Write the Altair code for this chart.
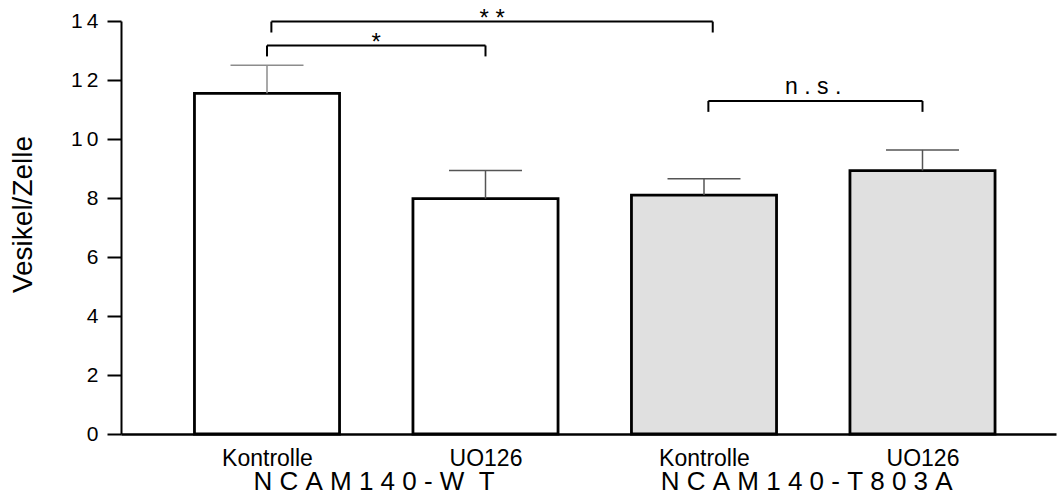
import altair as alt
import pandas as pd

# ---- data ----
conditions = ["Kontrolle", "UO126", "Kontrolle", "UO126"]
positions = [1, 2, 3, 4]
means = [11.55, 7.98, 8.10, 8.93]
err_upper = [12.50, 8.93, 8.65, 9.63]
fills = ["#ffffff", "#ffffff", "#e0e0e0", "#e0e0e0"]
err_colors = ["#8c8c8c", "#555555", "#555555", "#555555"]

group_labels = ["N\u00a0C\u00a0A\u00a0M\u00a01\u00a04\u00a00\u00a0-\u00a0W\u00a0\u00a0T",
                "N\u00a0C\u00a0A\u00a0M\u00a01\u00a04\u00a00\u00a0-\u00a0T\u00a08\u00a00\u00a03\u00a0A"]
group_pos = [1.49, 3.47]

bracket_x1 = [1.0, 1.02, 3.02]
bracket_x2 = [2.0, 3.04, 4.0]
bracket_y = [13.17, 13.98, 11.29]
bracket_drop = [12.80, 13.61, 10.92]
sig_labels = ["*", "*\u00a0*", "n\u00a0.\u00a0s\u00a0."]
sig_x = [1.5, 2.03, 3.5]
sig_y = [13.02, 13.84, 11.52]
sig_size = [24, 24, 23]

FONT = "Liberation Sans"

bars_df = pd.DataFrame({"cond": conditions, "pos": positions, "mean": means,
                        "upper": err_upper, "fill": fills, "ecol": err_colors})
groups_df = pd.DataFrame({"label": group_labels, "pos": group_pos})
br_df = pd.DataFrame({"x1": bracket_x1, "x2": bracket_x2, "y": bracket_y, "yd": bracket_drop})
sig_df = pd.DataFrame({"label": sig_labels, "x": sig_x, "y": sig_y, "size": sig_size})

HALF = 0.332
xscale = alt.Scale(domain=[0.3318, 4.611], nice=False, zero=False)
yscale = alt.Scale(domain=[0, 14], nice=False)

label_map = "{1:'Kontrolle',2:'UO126',3:'Kontrolle',4:'UO126'}"

xaxis = alt.Axis(values=positions, labelExpr=f"{label_map}[datum.value]",
                 ticks=False, grid=False, domainColor="black", domainWidth=2.5,
                 labelFontSize=23, labelColor="black", labelPadding=13,
                 labelFont=FONT, title=None)
yaxis = alt.Axis(values=[0, 2, 4, 6, 8, 10, 12, 14],
                 labelExpr="datum.value >= 10 ? '1\u2009' + (datum.value - 10) : datum.label",
                 tickSize=14, tickWidth=2, tickColor="black", domainColor="black",
                 domainWidth=2, grid=False, labelFontSize=21, labelColor="black",
                 labelPadding=9, labelFont=FONT,
                 title="Vesikel/Zelle", titleFont=FONT, titleFontSize=28,
                 titleFontWeight="normal", titleColor="black", titleAngle=-90,
                 titleAlign="center", titleBaseline="middle",
                 titleX=-98, titleY=193)


def X(field):
    return alt.X(field, scale=xscale, axis=xaxis)


def Y(field):
    return alt.Y(field, scale=yscale, axis=yaxis, title="Vesikel/Zelle")


bars = alt.Chart(bars_df).transform_calculate(
    xa=f"datum.pos - {HALF}", xb=f"datum.pos + {HALF}"
).mark_bar(stroke="black", strokeWidth=2.8).encode(
    x=X("xa:Q"),
    x2="xb:Q",
    y=Y("mean:Q"),
    y2=alt.datum(0),
    fill=alt.Fill("fill:N", scale=None),
)

stems = alt.Chart(bars_df).mark_rule(strokeWidth=1.5).encode(
    x=X("pos:Q"),
    y=Y("mean:Q"),
    y2="upper:Q",
    color=alt.Color("ecol:N", scale=None),
)

caps = alt.Chart(bars_df).transform_calculate(
    ca="datum.pos - 0.167", cb="datum.pos + 0.167"
).mark_rule(strokeWidth=1.5).encode(
    x=X("ca:Q"),
    x2="cb:Q",
    y=Y("upper:Q"),
    color=alt.Color("ecol:N", scale=None),
)

br_h = alt.Chart(br_df).mark_rule(color="black", strokeWidth=2).encode(
    x=X("x1:Q"), x2="x2:Q",
    y=Y("y:Q"),
)
br_l = alt.Chart(br_df).mark_rule(color="black", strokeWidth=2).encode(
    x=X("x1:Q"),
    y=Y("y:Q"), y2="yd:Q",
)
br_r = alt.Chart(br_df).mark_rule(color="black", strokeWidth=2).encode(
    x=X("x2:Q"),
    y=Y("y:Q"), y2="yd:Q",
)

sig = alt.Chart(sig_df).mark_text(font=FONT, color="black", baseline="alphabetic",
                                  align="center").encode(
    x=X("x:Q"),
    y=Y("y:Q"),
    text="label:N",
    size=alt.Size("size:Q", scale=None),
)

grp = alt.Chart(groups_df).mark_text(font=FONT, fontSize=26, color="black",
                                     baseline="alphabetic", align="center").encode(
    x=X("pos:Q"),
    y=alt.value(469),
    text="label:N",
)

chart = alt.layer(bars, stems, caps, br_h, br_l, br_r, sig, grp).properties(
    width=935, height=413,
    autosize=alt.AutoSizeParams(type="none"),
    padding={"left": 121, "top": 21, "right": 2, "bottom": 63},
    background="white",
).configure_view(stroke=None)

chart.save("out.html", embed_options={"renderer": "svg", "actions": False})
